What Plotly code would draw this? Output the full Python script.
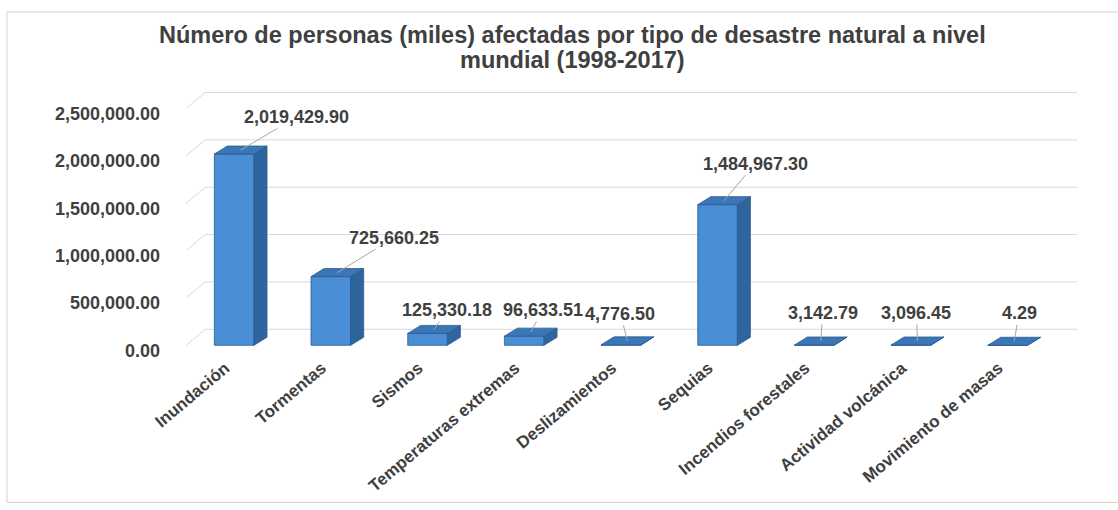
import plotly.graph_objects as go

# Affected people (thousands) by disaster type, 1998-2017
categories = ["Inundación", "Tormentas", "Sismos", "Temperaturas extremas",
              "Deslizamientos", "Sequias", "Incendios forestales",
              "Actividad volcánica", "Movimiento de masas"]
values = [2019429.90, 725660.25, 125330.18, 96633.51, 4776.50,
          1484967.30, 3142.79, 3096.45, 4.29]
y_ticks = [0, 500000, 1000000, 1500000, 2000000, 2500000]
title_lines = ["Número de personas (miles) afectadas por tipo de desastre natural a nivel",
               "mundial (1998-2017)"]

# label offsets (pixels) from each bar's top face
label_dx = [56, 57, 13, 12, -7, 31, 2, -1, 5]
label_dy = [-33, -35, -19, -22, -27, -37, -28, -28, -28]

W, H = 1118, 510
XL, XR = 181, 1085          # plot area left/right in px
X_RANGE = [-0.55, 8.8]
PX_PER_CAT = (XR - XL) / (X_RANGE[1] - X_RANGE[0])
Y0_PX = 345                 # pixel row of value 0 on the front plane
PX_PER_UNIT = 94.6e-6
YT, YB = 90, 349.7
Y_RANGE = [(Y0_PX - YB) / PX_PER_UNIT, (Y0_PX - YT) / PX_PER_UNIT]

BAR_W = 0.41
DEPTH_X = 13 / PX_PER_CAT           # bar depth, category units
DEPTH_Y = 8 / PX_PER_UNIT           # bar depth, value units
WALL_Y = 16 / PX_PER_UNIT           # back wall offset
WALL_X0 = (205 - 234) / PX_PER_CAT
WALL_X1 = (1077 - 234) / PX_PER_CAT
SIDE_X0 = (186 - 234) / PX_PER_CAT

FRONT = "#4A8ED6"
SIDE = "#2F659F"
TOP = "#3B76B8"
EDGE = "#2A5A8E"
TEXT = "#404040"
GRID = "#D9D9D9"
FONT = "Liberation Sans, Arial"


def paper_x(px):
    return (px - XL) / (XR - XL)


def paper_y(py):
    return (YB - py) / (YB - YT)


xs = list(range(len(categories)))
fig = go.Figure()

# back wall and side wall gridlines
shapes = []
for t in y_ticks:
    shapes.append(dict(type="line", xref="x", yref="y", layer="below",
                       x0=WALL_X0, x1=WALL_X1, y0=t + WALL_Y, y1=t + WALL_Y,
                       line=dict(color=GRID, width=1)))
    shapes.append(dict(type="line", xref="x", yref="y", layer="below",
                       x0=SIDE_X0, x1=WALL_X0, y0=t, y1=t + WALL_Y,
                       line=dict(color=GRID, width=1)))

# front faces
fig.add_trace(go.Bar(x=xs, y=values, width=BAR_W, marker=dict(
    color=FRONT, line=dict(color=EDGE, width=0.8)), hoverinfo="skip",
    showlegend=False))

# side and top faces
for x, v in zip(xs, values):
    xl, xr = x - BAR_W / 2, x + BAR_W / 2
    fig.add_trace(go.Scatter(
        x=[xr, xr + DEPTH_X, xr + DEPTH_X, xr, xr],
        y=[0, DEPTH_Y, v + DEPTH_Y, v, 0],
        fill="toself", fillcolor=SIDE, mode="lines",
        line=dict(color=EDGE, width=0.8), hoverinfo="skip", showlegend=False))
    fig.add_trace(go.Scatter(
        x=[xl, xl + DEPTH_X, xr + DEPTH_X, xr, xl],
        y=[v, v + DEPTH_Y, v + DEPTH_Y, v, v],
        fill="toself", fillcolor=TOP, mode="lines",
        line=dict(color=EDGE, width=0.8), hoverinfo="skip", showlegend=False))

# value labels with leader lines
annotations = []
for x, v, dx, dy in zip(xs, values, label_dx, label_dy):
    annotations.append(dict(
        x=x + DEPTH_X / 2, y=v + DEPTH_Y / 2, xref="x", yref="y",
        text=f"{v:,.2f}", showarrow=True, arrowhead=0, arrowwidth=1,
        arrowcolor="#A6A6A6", ax=dx, ay=dy,
        font=dict(family=FONT, size=18, color=TEXT, weight="bold")))

# title, two lines
for line, cy in zip(title_lines, [35, 60]):
    annotations.append(dict(
        x=paper_x(572), y=paper_y(cy), xref="paper", yref="paper",
        xanchor="center", yanchor="middle", showarrow=False, text=line,
        font=dict(family=FONT, size=23.5, color=TEXT, weight="bold")))

# chart border
border = dict(color="#D0D0D0", width=1)
for (x0, y0, x1, y1) in [(7, 12, 1125, 12), (7, 12, 7, 502), (7, 502, 1125, 502)]:
    shapes.append(dict(type="line", xref="paper", yref="paper",
                       x0=paper_x(x0), x1=paper_x(x1),
                       y0=paper_y(y0), y1=paper_y(y1), line=border))

fig.update_layout(
    width=W, height=H,
    margin=dict(l=XL, r=W - XR, t=YT, b=H - YB, pad=0),
    paper_bgcolor="white", plot_bgcolor="rgba(0,0,0,0)",
    shapes=shapes, annotations=annotations,
    xaxis=dict(range=X_RANGE, tickvals=xs, ticktext=categories, tickangle=-40,
               showgrid=False, zeroline=False, showline=False, ticks="",
               ticklabelshift=-9, ticklabelstandoff=4,
               tickfont=dict(family=FONT, size=17, color=TEXT, weight="bold")),
    yaxis=dict(range=Y_RANGE, tickvals=y_ticks, tickformat=",.2f",
               showgrid=False, zeroline=False, showline=False, ticks="",
               ticklabelshift=5, ticklabelstandoff=20,
               tickfont=dict(family=FONT, size=18, color=TEXT, weight="bold")),
    font=dict(family=FONT, color=TEXT),
)

fig.write_html("out.html")
